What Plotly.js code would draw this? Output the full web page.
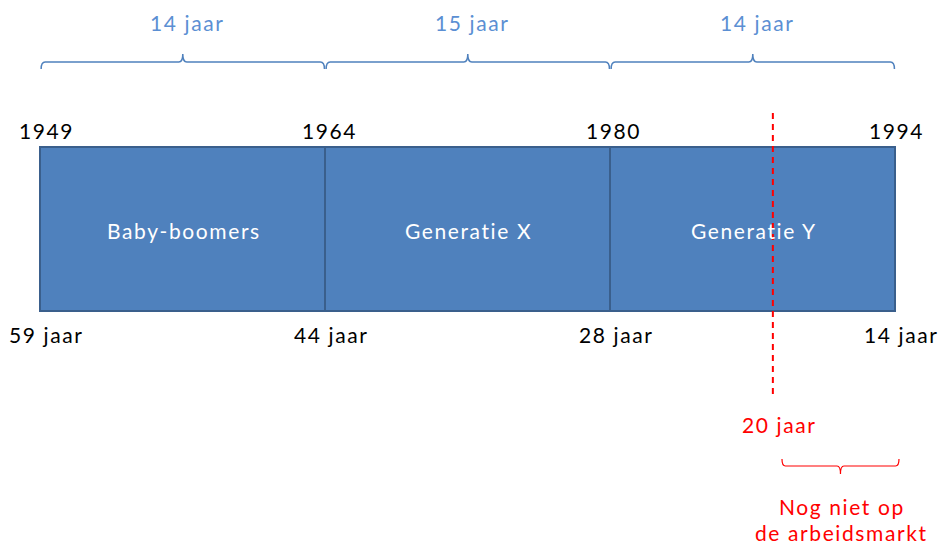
<!DOCTYPE html>
<html>
<head>
<meta charset="utf-8">
<script src="https://cdn.plot.ly/plotly-3.0.1.min.js"></script>
<style>
html,body{margin:0;padding:0;background:#fff;}
#chart{width:940px;height:545px;}
svg text{letter-spacing:1.6px;}
</style>
</head>
<body>
<div id="chart"></div>
<script>
// ---- data ----
const generations = ["Baby-boomers", "Generatie X", "Generatie Y"];
const boundaryYears = [1949, 1964, 1980, 1994];
const boundaryAges = ["59 jaar", "44 jaar", "28 jaar", "14 jaar"];
const spanLabels = ["14 jaar", "15 jaar", "14 jaar"];
const markerBirthYear = 1988;
const markerAgeLabel = "20 jaar";
const notYetLabel = ["Nog niet op", "de arbeidsmarkt"];

// ---- helpers ----
// schematic axis: each generation occupies one unit
function yearToX(year) {
  for (let i = 0; i < boundaryYears.length - 1; i++) {
    const a = boundaryYears[i], b = boundaryYears[i + 1];
    if (year <= b || i === boundaryYears.length - 2) return i + (year - a) / (b - a);
  }
}
// vertical placement in box-height units (box = 0..1), from pixel rows
function py(p) { return 1 + (147 - p) / 164; }
const PX = 1 / 285; // one horizontal pixel in x units

function bracePath(x0, x1, yEnd, yMid, yTip, r) {
  const xc = (x0 + x1) / 2;
  return `M ${x0},${yEnd} Q ${x0},${yMid} ${x0 + r},${yMid} L ${xc - r},${yMid} ` +
         `Q ${xc},${yMid} ${xc},${yTip} Q ${xc},${yMid} ${xc + r},${yMid} ` +
         `L ${x1 - r},${yMid} Q ${x1},${yMid} ${x1},${yEnd}`;
}

const blue = "#4F81BD";
const txtBlue = "#5B8FD3";
const red = "#FF0000";
const font = "Lato, 'Open Sans', sans-serif";
const fs = 21;

const centers = generations.map((g, i) => (yearToX(boundaryYears[i]) + yearToX(boundaryYears[i + 1])) / 2);
const widths = generations.map((g, i) => yearToX(boundaryYears[i + 1]) - yearToX(boundaryYears[i]));

const bars = {
  type: "bar",
  x: centers,
  y: generations.map(() => 1),
  base: 0,
  width: widths,
  marker: { color: blue, line: { color: "#3A5F8C", width: 2 } },
  hoverinfo: "skip",
  showlegend: false
};

const xm = yearToX(markerBirthYear);
const redLine = {
  type: "scatter", mode: "lines",
  x: [xm, xm], y: [py(113), py(395)],
  line: { color: red, width: 2, dash: "6px,5px" },
  hoverinfo: "skip", showlegend: false
};

const annotations = [];
const shapes = [];

spanLabels.forEach((t, i) => {
  const x0 = yearToX(boundaryYears[i]), x1 = yearToX(boundaryYears[i + 1]);
  annotations.push({ x: (x0 + x1) / 2 + 5 * PX, y: py(22), text: t, showarrow: false,
    font: { family: font, size: fs, color: txtBlue }, xanchor: "center", yanchor: "middle" });
  shapes.push({ type: "path", xref: "x", yref: "y",
    path: bracePath(x0 + 0.004, x1 - 0.002, py(69), py(62), py(54), 0.014),
    line: { color: blue, width: 1.5 } });
});

boundaryYears.forEach((yr, i) => {
  annotations.push({ x: yearToX(yr) + (6 - 1.5 * i) * PX, y: py(130), text: String(yr), showarrow: false,
    font: { family: font, size: fs, color: "#000" }, xanchor: "center", yanchor: "middle" });
  annotations.push({ x: yearToX(yr) + 0.024, y: py(334.5), text: boundaryAges[i], showarrow: false,
    font: { family: font, size: fs, color: "#000" }, xanchor: "center", yanchor: "middle" });
});

generations.forEach((g, i) => {
  annotations.push({ x: centers[i] + 0.004, y: py(230), text: g, showarrow: false,
    font: { family: font, size: fs, color: "#fff" }, xanchor: "center", yanchor: "middle" });
});

annotations.push({ x: xm + 0.025, y: py(424), text: markerAgeLabel, showarrow: false,
  font: { family: font, size: fs, color: red }, xanchor: "center", yanchor: "middle" });

const rb0 = xm + 0.032, rb1 = yearToX(boundaryYears[3]) + 0.014;
shapes.push({ type: "path", xref: "x", yref: "y",
  path: bracePath(rb0, rb1, py(459), py(466), py(474), 0.012),
  line: { color: red, width: 1.2 } });

annotations.push({ x: (rb0 + rb1) / 2 + 0.004, y: py(506), text: notYetLabel[0], showarrow: false,
  font: { family: font, size: fs, color: red }, xanchor: "center", yanchor: "middle" });
annotations.push({ x: (rb0 + rb1) / 2 + 0.004, y: py(532), text: notYetLabel[1], showarrow: false,
  font: { family: font, size: fs, color: red }, xanchor: "center", yanchor: "middle" });

const layout = {
  width: 940, height: 545,
  margin: { l: 0, r: 0, t: 0, b: 0 },
  paper_bgcolor: "#fff", plot_bgcolor: "#fff",
  xaxis: { range: [-40 / 285, 900 / 285], visible: false, fixedrange: true },
  yaxis: { range: [py(545), py(0)], visible: false, fixedrange: true },
  bargap: 0,
  annotations: annotations,
  shapes: shapes,
  showlegend: false
};

Plotly.newPlot("chart", [bars, redLine], layout, { displayModeBar: false, staticPlot: true });
</script>
</body>
</html>
